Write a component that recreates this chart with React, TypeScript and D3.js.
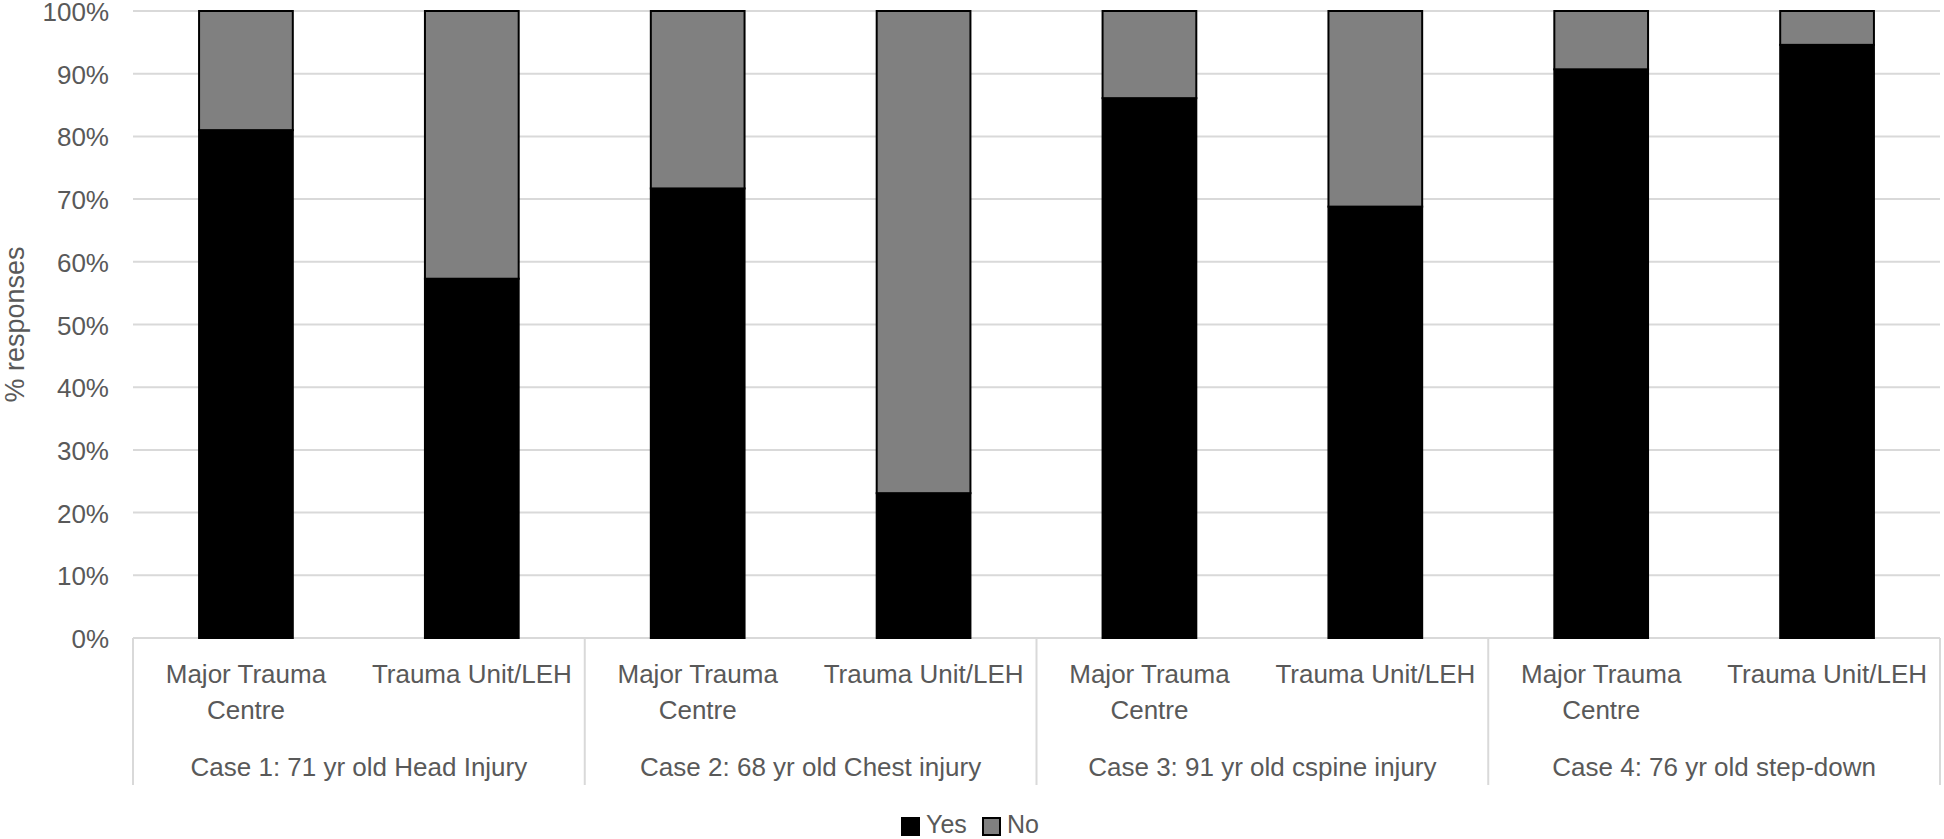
import React from "react";
import * as d3 from "d3";

const cases = [
  "Case 1: 71 yr old Head Injury",
  "Case 2: 68 yr old Chest injury",
  "Case 3: 91 yr old cspine injury",
  "Case 4: 76 yr old step-down",
];
const settings = ["Major Trauma Centre", "Trauma Unit/LEH"];
const settingLabelLines = [["Major Trauma", "Centre"], ["Trauma Unit/LEH"]];
// order: case1 MTC, case1 TU, case2 MTC, ...
const yesValues = [81.0, 57.3, 71.7, 23.1, 86.1, 68.8, 90.7, 94.6];
const noValues = [19.0, 42.7, 28.3, 76.9, 13.9, 31.2, 9.3, 5.4];
const seriesNames = ["Yes", "No"];
const seriesColors = ["#000000", "#808080"];
const yTicks = [0, 10, 20, 30, 40, 50, 60, 70, 80, 90, 100];
const yTitle = "% responses";

const W = 1944;
const H = 839;
const M = { left: 133, right: 1940, top: 11, bottom: 638 };
const FONT = "'Liberation Sans', Arial, sans-serif";
const TEXT = "#595959";
const GRID = "#d9d9d9";

export default function App() {
  const y = d3.scaleLinear().domain([0, 100]).range([M.bottom, M.top]);
  const x0 = d3.scaleBand<string>().domain(cases).range([M.left, M.right]).padding(0);
  const x1 = d3.scaleBand<string>().domain(settings).range([0, x0.bandwidth()]).padding(0);
  const barW = x1.bandwidth() * 0.415;

  const rows = cases.flatMap((c, ci) =>
    settings.map((s, si) => {
      const i = ci * settings.length + si;
      return { c, s, si, yes: yesValues[i], no: noValues[i] };
    })
  );
  const stack = d3.stack<any>().keys(["yes", "no"])(rows as any);

  const legendItems = seriesNames.map((n, i) => ({ n, color: seriesColors[i] }));

  return (
    <svg
      width={W}
      height={H}
      style={{ position: "absolute", left: 0, top: 0, display: "block", background: "#fff" }}
      fontFamily={FONT}
    >
      {/* gridlines */}
      {yTicks.map((t) => (
        <line key={"g" + t} x1={M.left} x2={M.right} y1={y(t)} y2={y(t)} stroke={GRID} strokeWidth={2} />
      ))}
      {/* y tick labels */}
      {yTicks.map((t) => (
        <text
          key={"t" + t}
          x={109}
          y={y(t) + 1}
          textAnchor="end"
          dominantBaseline="central"
          fontSize={26}
          fill={TEXT}
        >
          {t + "%"}
        </text>
      ))}
      {/* y title */}
      <text
        transform={`translate(${15},${(M.top + M.bottom) / 2}) rotate(-90)`}
        textAnchor="middle"
        dominantBaseline="central"
        fontSize={27}
        fill={TEXT}
      >
        {yTitle}
      </text>
      {/* bars */}
      {stack.map((layer, li) =>
        layer.map((d: any, i: number) => {
          const r = rows[i];
          const cx = (x0(r.c) as number) + (x1(r.s) as number) + x1.bandwidth() / 2;
          return (
            <rect
              key={li + "-" + i}
              x={cx - barW / 2}
              y={y(d[1])}
              width={barW}
              height={y(d[0]) - y(d[1])}
              fill={seriesColors[li]}
              stroke="#000"
              strokeWidth={2}
            />
          );
        })
      )}
      {/* category axis frame */}
      {cases.map((c) => (
        <line
          key={"v" + c}
          x1={x0(c) as number}
          x2={x0(c) as number}
          y1={M.bottom}
          y2={785}
          stroke={GRID}
          strokeWidth={2}
        />
      ))}
      <line x1={M.right} x2={M.right} y1={M.bottom} y2={785} stroke={GRID} strokeWidth={2} />
      {/* sub labels */}
      {rows.map((r, i) => {
        const cx = (x0(r.c) as number) + (x1(r.s) as number) + x1.bandwidth() / 2;
        return settingLabelLines[r.si].map((ln, li) => (
          <text key={"s" + i + "-" + li} x={cx} y={683 + li * 36} textAnchor="middle" fontSize={26} fill={TEXT}>
            {ln}
          </text>
        ));
      })}
      {/* case labels */}
      {cases.map((c) => (
        <text
          key={"c" + c}
          x={(x0(c) as number) + x0.bandwidth() / 2}
          y={776}
          textAnchor="middle"
          fontSize={26}
          fill={TEXT}
        >
          {c}
        </text>
      ))}
      {/* legend */}
      {legendItems.map((it, i) => {
        const lx = 902 + i * 81;
        return (
          <g key={"l" + it.n}>
            <rect x={lx} y={818} width={17} height={17} fill={it.color} stroke="#000" strokeWidth={2} />
            <text x={lx + 24} y={833} fontSize={25} fill={TEXT}>
              {it.n}
            </text>
          </g>
        );
      })}
    </svg>
  );
}
